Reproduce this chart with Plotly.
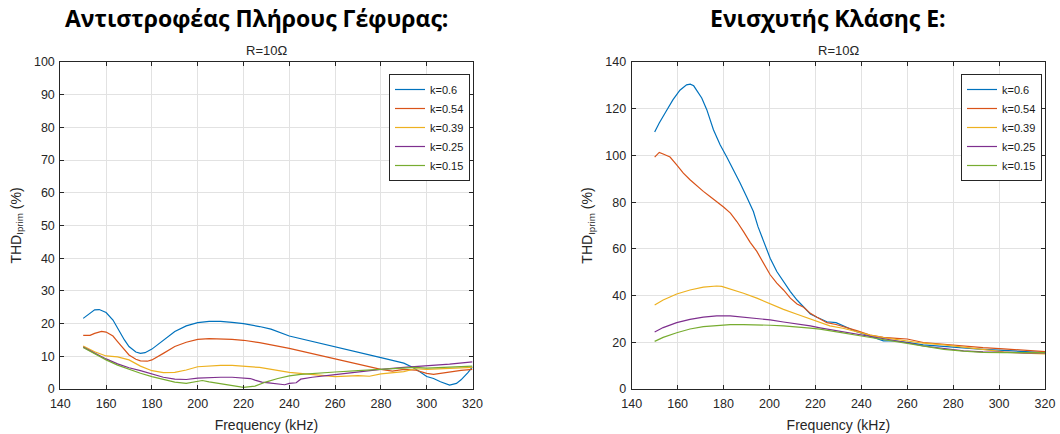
import plotly.graph_objects as go

# ---------------- data ----------------
series_labels = ["k=0.6", "k=0.54", "k=0.39", "k=0.25", "k=0.15"]
series_colors = ["#0072BD", "#D95319", "#EDB120", "#7E2F8E", "#77AC30"]

# Left panel: full-bridge inverter
fb_x_06 = [150, 153, 155, 157, 160, 163, 165, 168, 170, 173, 175, 177, 180, 185, 190, 195, 200, 205, 210, 215,
           220, 227, 232, 240, 250, 260, 270, 280, 290, 294, 297, 300, 303, 306, 310, 313, 315, 318, 320]
fb_y_06 = [21.6, 23.2, 24.2, 24.3, 23.4, 21.1, 18.6, 15.0, 13.0, 11.3, 10.9, 11.1, 12.2, 15.0, 17.6, 19.3, 20.3,
           20.7, 20.7, 20.4, 20.0, 19.1, 18.3, 16.2, 14.6, 13.0, 11.3, 9.6, 7.9, 6.6, 5.3, 3.8, 3.2, 2.2, 1.2, 1.7,
           2.8, 5.0, 6.8]

fb_x_054 = [150, 153, 155, 158, 160, 163, 165, 168, 170, 173, 175, 178, 180, 185, 190, 195, 200, 205, 210, 215,
            220, 227, 240, 250, 260, 270, 280, 285, 290, 295, 300, 303, 306, 310, 315, 320]
fb_y_054 = [16.4, 16.4, 17.0, 17.6, 17.4, 16.2, 14.5, 11.9, 10.4, 9.1, 8.6, 8.5, 8.9, 10.9, 13.0, 14.3, 15.2,
            15.4, 15.4, 15.2, 14.9, 14.2, 12.4, 10.8, 9.1, 7.6, 6.0, 5.5, 6.0, 5.8, 4.8, 4.5, 4.8, 5.3, 5.7, 6.0]

fb_x_039 = [150, 155, 160, 165, 170, 175, 180, 185, 190, 195, 200, 205, 210, 215, 220, 227, 240, 250, 260, 270,
            275, 280, 290, 295, 300, 310, 320]
fb_y_039 = [13.1, 11.4, 10.1, 9.8, 8.9, 7.0, 5.6, 5.0, 5.1, 5.8, 6.8, 7.1, 7.2, 7.2, 7.0, 6.6, 5.1, 4.4, 3.8,
            4.1, 3.9, 4.6, 5.3, 6.2, 6.0, 6.3, 6.6]

fb_x_025 = [150, 155, 160, 165, 170, 175, 180, 185, 190, 195, 200, 205, 210, 215, 220, 223, 225, 228, 231, 235,
            238, 240, 243, 245, 250, 260, 270, 280, 290, 300, 310, 320]
fb_y_025 = [12.8, 10.9, 9.2, 7.7, 6.5, 5.6, 4.6, 3.6, 3.0, 2.9, 3.3, 3.5, 3.6, 3.6, 3.3, 3.2, 2.7, 2.1, 1.9,
            1.6, 1.3, 1.7, 1.9, 3.0, 3.6, 4.4, 5.3, 6.0, 6.6, 7.0, 7.6, 8.3]

fb_x_015 = [150, 155, 160, 165, 170, 175, 180, 185, 190, 195, 198, 200, 202, 205, 210, 215, 220, 225, 230, 235,
            240, 245, 250, 260, 270, 280, 290, 295, 300, 310, 320]
fb_y_015 = [12.7, 10.7, 8.9, 7.3, 6.0, 4.8, 3.8, 3.0, 2.1, 1.7, 2.0, 2.2, 2.6, 2.2, 1.7, 1.2, 0.5, 0.9, 2.2,
            3.2, 4.0, 4.5, 4.8, 5.2, 5.6, 6.0, 6.3, 6.6, 6.4, 6.7, 7.0]

# Right panel: class-E amplifier
ce_x_06 = [150, 152, 155, 158, 161, 163.9, 165.5, 167, 170.5, 172.7, 175.6, 178.5, 181.4, 184.3, 187.2, 190, 193,
           195, 197.5, 200.3, 203.2, 206.1, 209.1, 212, 214.9, 217.8, 220.7, 225, 229, 233.6, 238, 242.3, 246.7,
           249.6, 254, 260, 267, 276, 284.5, 293, 302, 310.7, 320]
ce_y_06 = [110.0, 113.9, 118.9, 123.9, 127.9, 130.2, 130.5, 129.8, 124.6, 119.6, 111.0, 104.6, 99.3, 93.9, 88.2,
           82.4, 76.0, 69.5, 63.0, 56.0, 50.3, 46.0, 41.7, 38.1, 35.3, 32.1, 30.7, 28.8, 28.4, 26.4, 24.5, 23.1,
           21.7, 20.6, 20.6, 20.0, 18.9, 18.2, 17.4, 17.0, 16.5, 16.0, 15.6]

ce_x_054 = [150, 152, 153.7, 156.7, 159.6, 162.5, 165.4, 168.3, 171.2, 174.1, 177, 180, 183, 185.8, 188.7, 191.6,
            194.5, 197.4, 200.3, 203.2, 206.1, 209.1, 212, 214.9, 217.8, 220.7, 225, 229, 233, 238, 243.8, 249.6,
            255.4, 260, 267, 276, 284.5, 293, 302, 310.7, 320]
ce_y_054 = [99.3, 101.3, 100.6, 99.3, 96.0, 92.4, 89.6, 87.0, 84.6, 82.4, 80.3, 77.9, 75.3, 71.7, 67.4, 62.8,
            58.9, 53.9, 48.9, 45.3, 42.4, 38.9, 36.4, 35.0, 32.4, 30.7, 28.4, 27.6, 26.5, 25.0, 23.1, 22.1, 21.7,
            21.4, 19.9, 19.1, 18.2, 17.7, 17.2, 16.5, 16.0]

ce_x_039 = [150, 153.7, 159.6, 165.4, 171.2, 177, 179.2, 182.9, 188.7, 194.5, 200.3, 206.1, 212, 217.8, 222,
            226.3, 232, 238, 243.8, 249.6, 255.4, 260, 267, 276, 284.5, 293, 302, 310.7, 320]
ce_y_039 = [36.0, 38.1, 40.7, 42.4, 43.6, 44.1, 43.9, 42.9, 41.0, 38.9, 36.4, 34.1, 32.0, 30.0, 28.4, 27.0,
            26.0, 24.5, 23.1, 22.0, 21.3, 20.7, 19.6, 18.9, 17.9, 16.7, 15.9, 15.3, 15.0]

ce_x_025 = [150, 153.7, 159.6, 165.4, 171.2, 177, 182.9, 188.7, 194.5, 200.3, 206.1, 212, 217.8, 222, 226.3, 232,
            238, 243.8, 249.6, 255.4, 261.3, 267, 276, 284.5, 293, 302, 310.7, 320]
ce_y_025 = [24.4, 26.3, 28.4, 29.8, 30.8, 31.3, 31.3, 30.8, 30.3, 29.6, 28.7, 28.0, 27.0, 26.2, 25.5, 24.3,
            23.3, 22.4, 21.6, 20.7, 19.6, 18.4, 17.2, 16.3, 15.9, 15.6, 15.5, 15.5]

ce_x_015 = [150, 153.7, 159.6, 165.4, 171.2, 177, 182.9, 188.7, 194.5, 200.3, 206.1, 212, 217.8, 222, 226.3, 232,
            238, 243.8, 249.6, 255.4, 261.3, 267, 276, 284.5, 293, 302, 310.7, 320]
ce_y_015 = [20.4, 22.1, 24.1, 25.7, 26.7, 27.3, 27.6, 27.6, 27.6, 27.3, 27.0, 26.6, 26.1, 25.6, 24.8, 24.0,
            23.0, 22.1, 21.0, 20.1, 19.1, 18.2, 17.0, 16.2, 15.7, 15.6, 15.6, 15.6]

left_x = [fb_x_06, fb_x_054, fb_x_039, fb_x_025, fb_x_015]
left_y = [fb_y_06, fb_y_054, fb_y_039, fb_y_025, fb_y_015]
right_x = [ce_x_06, ce_x_054, ce_x_039, ce_x_025, ce_x_015]
right_y = [ce_y_06, ce_y_054, ce_y_039, ce_y_025, ce_y_015]

x_ticks = [140, 160, 180, 200, 220, 240, 260, 280, 300, 320]
left_y_ticks = [0, 10, 20, 30, 40, 50, 60, 70, 80, 90, 100]
right_y_ticks = [0, 20, 40, 60, 80, 100, 120, 140]

main_title_left = "Αντιστροφέας Πλήρους Γέφυρας:"
main_title_right = "Ενισχυτής Κλάσης Ε:"
sub_title = "R=10Ω"
x_label = "Frequency (kHz)"
y_label = "THD<sub>Iprim</sub> (%)"

# ---------------- figure ----------------
FONT = "Liberation Sans, Arial, sans-serif"
AX = "#262626"
GRID = "#e2e2e2"

W, H = 1060, 434
ml, mt = 60, 62
mr, mb = 15, 45
pw = W - ml - mr
ph = H - mt - mb


def px_x(sx):
    return (sx - ml) / pw


def px_y(sy):
    return (H - mb - sy) / ph


fig = go.Figure()
for lx, ly, name, col in zip(left_x, left_y, series_labels, series_colors):
    fig.add_trace(go.Scatter(x=lx, y=ly, mode="lines", name=name, line=dict(color=col, width=1.2),
                             xaxis="x", yaxis="y", legend="legend"))
for rx, ry, name, col in zip(right_x, right_y, series_labels, series_colors):
    fig.add_trace(go.Scatter(x=rx, y=ry, mode="lines", name=name, line=dict(color=col, width=1.2),
                             xaxis="x2", yaxis="y2", legend="legend2"))

d1 = [px_x(60.3), px_x(472.5)]
d2 = [px_x(631.7), 1]


def xaxis(domain, anchor):
    return dict(domain=domain, anchor=anchor, range=[140, 320], tickvals=x_ticks,
                showline=True, linecolor=AX, linewidth=1, mirror="ticks",
                ticks="inside", ticklen=4, tickcolor=AX, showgrid=True, gridcolor=GRID,
                zeroline=False, automargin=False, ticklabelstandoff=3,
                tickfont=dict(family=FONT, size=12.5, color=AX),
                title=dict(text=x_label, font=dict(family=FONT, size=14, color=AX), standoff=10))


def yaxis(rng, ticks, anchor):
    return dict(domain=[0, 1], anchor=anchor, range=rng, tickvals=ticks,
                showline=True, linecolor=AX, linewidth=1, mirror="ticks",
                ticks="inside", ticklen=4, tickcolor=AX, showgrid=True, gridcolor=GRID,
                zeroline=False, automargin=False, ticklabelstandoff=2,
                tickfont=dict(family=FONT, size=12.5, color=AX),
                title=dict(text=y_label, font=dict(family=FONT, size=14, color=AX), standoff=9))


legend_common = dict(bgcolor="white", bordercolor=AX, borderwidth=1,
                     font=dict(family=FONT, size=11, color="#1a1a1a"),
                     xanchor="right", yanchor="top", tracegroupgap=0,
                     itemwidth=30)

fig.update_layout(
    template="none",
    width=W, height=H,
    margin=dict(l=ml, r=mr, t=mt, b=mb, autoexpand=False),
    paper_bgcolor="white", plot_bgcolor="white",
    xaxis=xaxis(d1, "y"), yaxis=yaxis([0, 100], left_y_ticks, "x"),
    xaxis2=xaxis(d2, "y2"), yaxis2=yaxis([0, 140], right_y_ticks, "x2"),
    legend=dict(x=px_x(470), y=px_y(74), **legend_common),
    legend2=dict(x=px_x(1042), y=px_y(74), **legend_common),
    showlegend=True,
)

annos = [
    dict(text=f"<b>{main_title_left}</b>", x=px_x(256), y=px_y(18),
         font=dict(family="Open Sans, sans-serif", size=23, color="black")),
    dict(text=f"<b>{main_title_right}</b>", x=px_x(828), y=px_y(18),
         font=dict(family="Open Sans, sans-serif", size=23, color="black")),
    dict(text=sub_title, x=(d1[0] + d1[1]) / 2, y=px_y(51),
         font=dict(family=FONT, size=13, color=AX)),
    dict(text=sub_title, x=(d2[0] + d2[1]) / 2, y=px_y(51),
         font=dict(family=FONT, size=13, color=AX)),
]
for a in annos:
    fig.add_annotation(xref="paper", yref="paper", showarrow=False, xanchor="center", yanchor="middle", **a)

# remove the browser's default 8px body margin so the figure fills the window exactly
fig.write_html("out.html", config={"displayModeBar": False},
               post_script="document.body.style.margin='0px';")
